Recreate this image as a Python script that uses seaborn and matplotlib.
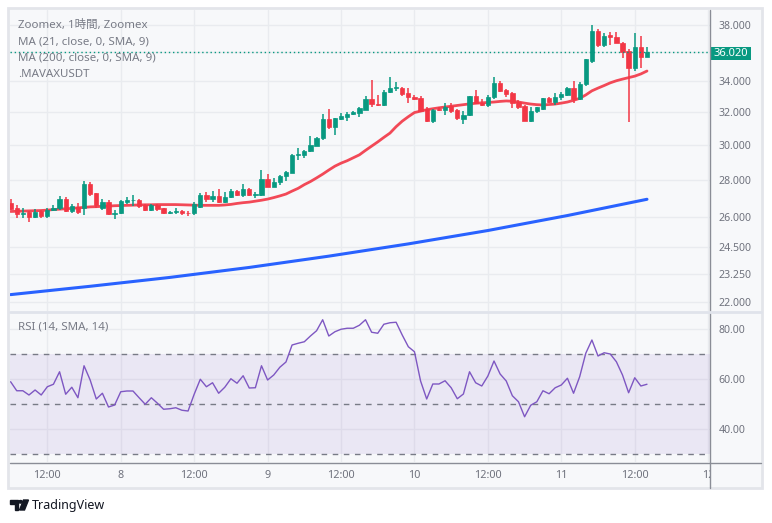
import matplotlib
matplotlib.use("Agg")
import matplotlib.pyplot as plt
from matplotlib.patches import Rectangle, Polygon, Circle
from matplotlib.lines import Line2D
from matplotlib.ticker import NullLocator, FixedLocator
from matplotlib.transforms import Bbox, TransformedBbox
import seaborn as sns
import pandas as pd
import numpy as np

# ---------------- data ----------------
opens = [26.73, 26.47, 26.18, 26.26, 26.03, 26.30, 26.08, 26.38, 26.47, 26.95,
         26.33, 26.55, 26.50, 27.75, 27.25, 26.47, 26.80, 26.16, 26.22, 26.82,
         26.90, 26.92, 26.62, 26.40, 26.65, 26.47, 26.24, 26.25, 26.30, 26.22,
         26.22, 26.55, 27.17, 26.95, 27.12, 26.78, 27.05, 27.40, 27.17, 27.50,
         27.17, 27.17, 28.04, 27.62, 27.86, 28.22, 28.40, 29.40, 29.42, 29.62,
         29.95, 30.38, 31.56, 31.10, 31.58, 31.72, 31.90, 31.95, 32.15, 32.85,
         32.52, 32.48, 33.28, 33.55, 33.58, 33.20, 32.98, 32.92, 32.17, 31.44,
         32.20, 32.13, 32.38, 32.10, 31.55, 31.82, 33.00, 32.60, 32.45, 32.95,
         33.88, 33.42, 33.25, 32.62, 32.38, 31.46, 32.08, 32.17, 32.88, 32.66,
         32.94, 33.10, 33.54, 32.82, 33.80, 35.40, 37.58, 36.53, 37.24, 37.14,
         36.70, 36.12, 34.88, 36.40, 35.70]
highs = [26.95, 26.64, 26.47, 26.33, 26.42, 26.40, 26.50, 26.64, 27.13, 27.08,
         26.70, 26.75, 27.94, 27.90, 27.25, 26.95, 26.90, 26.38, 26.90, 27.08,
         27.17, 26.95, 26.68, 26.70, 26.70, 26.50, 26.30, 26.50, 26.38, 26.35,
         26.80, 27.30, 27.35, 27.38, 27.47, 27.35, 27.47, 27.42, 27.77, 27.52,
         27.35, 28.55, 28.30, 28.08, 28.25, 28.50, 29.45, 29.80, 29.72, 30.53,
         30.45, 31.90, 32.17, 31.65, 31.92, 32.00, 32.05, 32.30, 33.05, 34.09,
         33.10, 33.42, 34.32, 33.97, 33.65, 33.53, 33.10, 33.00, 32.30, 32.20,
         32.30, 32.55, 32.55, 32.20, 32.05, 33.05, 33.42, 32.85, 33.10, 34.32,
         34.00, 33.50, 33.30, 32.80, 32.45, 32.30, 32.35, 32.92, 32.95, 33.25,
         33.30, 33.65, 34.05, 33.97, 35.55, 38.00, 37.68, 37.40, 37.46, 37.46,
         36.75, 36.25, 37.40, 37.19, 36.35]
lows = [26.38, 25.95, 25.98, 25.74, 25.95, 25.98, 25.95, 26.30, 26.40, 26.28,
        26.20, 26.16, 26.12, 27.10, 26.47, 26.40, 26.12, 25.91, 26.16, 26.68,
        26.60, 26.50, 26.30, 26.33, 26.30, 26.16, 26.18, 26.15, 26.10, 26.05,
        26.10, 26.47, 26.80, 26.80, 26.75, 26.75, 27.00, 27.10, 27.08, 27.12,
        27.03, 27.12, 27.60, 27.58, 27.71, 27.95, 28.35, 29.10, 29.20, 29.55,
        29.90, 30.30, 30.95, 30.59, 31.50, 31.45, 31.80, 31.72, 32.10, 32.30,
        32.40, 32.40, 33.20, 33.34, 33.00, 32.55, 32.75, 32.00, 31.40, 31.30,
        32.05, 31.82, 31.95, 31.50, 31.27, 31.75, 32.50, 32.38, 32.35, 32.85,
        33.30, 32.98, 32.23, 32.20, 31.46, 31.40, 31.92, 32.10, 32.55, 32.45,
        32.80, 33.00, 32.55, 32.75, 33.70, 35.27, 36.40, 36.36, 36.53, 36.65,
        35.58, 31.40, 34.72, 34.94, 35.65]
closes = [26.42, 26.16, 26.22, 26.03, 26.26, 26.08, 26.38, 26.50, 26.95, 26.33,
          26.60, 26.26, 27.75, 27.20, 26.64, 26.78, 26.16, 26.20, 26.85, 26.90,
          26.92, 26.58, 26.40, 26.65, 26.45, 26.22, 26.27, 26.30, 26.20, 26.20,
          26.68, 27.17, 26.95, 27.10, 26.78, 27.08, 27.40, 27.17, 27.50, 27.17,
          27.20, 28.04, 27.62, 27.86, 28.22, 28.43, 29.40, 29.48, 29.65, 30.00,
          30.38, 31.56, 31.10, 31.60, 31.75, 31.88, 32.00, 32.25, 32.85, 32.50,
          32.48, 33.28, 33.55, 33.60, 33.18, 32.95, 32.85, 32.08, 31.44, 32.15,
          32.13, 32.35, 32.05, 31.60, 31.82, 33.00, 32.55, 32.45, 32.98, 33.88,
          33.38, 33.18, 32.55, 32.30, 31.46, 32.08, 32.30, 32.88, 32.66, 32.94,
          33.15, 33.54, 32.82, 33.82, 35.50, 37.58, 36.53, 37.19, 37.10, 36.70,
          36.05, 34.88, 36.40, 35.70, 36.02]

ma21 = [26.30, 26.31, 26.32, 26.33, 26.34, 26.35, 26.37, 26.40, 26.42, 26.44,
        26.46, 26.49, 26.51, 26.54, 26.55, 26.57, 26.58, 26.60, 26.61, 26.62,
        26.63, 26.64, 26.65, 26.65, 26.66, 26.66, 26.66, 26.66, 26.65, 26.64,
        26.63, 26.62, 26.62, 26.62, 26.62, 26.64, 26.67, 26.72, 26.76, 26.79,
        26.84, 26.89, 26.95, 27.03, 27.12, 27.22, 27.38, 27.53, 27.73, 27.90,
        28.10, 28.31, 28.54, 28.76, 28.93, 29.07, 29.24, 29.41, 29.67, 29.92,
        30.17, 30.44, 30.70, 31.09, 31.43, 31.71, 31.97, 32.06, 32.15, 32.21,
        32.27, 32.32, 32.37, 32.42, 32.47, 32.52, 32.56, 32.59, 32.61, 32.64,
        32.68, 32.71, 32.69, 32.64, 32.57, 32.51, 32.47, 32.45, 32.48, 32.51,
        32.57, 32.64, 32.75, 32.88, 33.10, 33.37, 33.55, 33.72, 33.90, 34.04,
        34.15, 34.25, 34.35, 34.50, 34.70]

ma200_idx = [0, 13, 26, 39, 52, 65, 78, 91, 104]
ma200 = [22.32, 22.69, 23.09, 23.55, 24.08, 24.67, 25.33, 26.09, 26.94]

rsi = [58.9, 55.3, 55.3, 53.6, 55.6, 53.6, 56.9, 57.9, 62.9, 53.9,
       56.7, 52.5, 65.3, 59.6, 52.0, 54.3, 48.8, 49.6, 54.9, 55.2,
       55.2, 52.5, 49.9, 52.5, 50.3, 47.9, 48.1, 48.5, 47.5, 47.2,
       53.9, 59.9, 56.9, 58.5, 54.3, 56.7, 60.1, 58.3, 61.3, 56.4,
       56.5, 65.3, 59.6, 61.6, 64.7, 66.8, 73.6, 74.3, 74.9, 77.2,
       79.3, 83.7, 77.2, 78.9, 79.9, 80.3, 80.3, 81.5, 83.7, 78.7,
       78.3, 81.9, 82.5, 82.7, 77.6, 72.9, 70.9, 59.2, 52.0, 58.0,
       58.0, 59.3, 56.5, 52.1, 54.0, 62.9, 58.5, 57.2, 61.2, 67.2,
       62.0, 59.2, 53.3, 50.9, 44.9, 49.5, 50.9, 55.3, 54.1, 56.5,
       57.6, 60.3, 54.3, 60.9, 70.3, 75.6, 69.2, 70.5, 70.0, 66.9,
       61.6, 54.5, 60.5, 57.2, 57.9]

time_ticks = [6, 18, 30, 42, 54, 66, 78, 90, 102, 114]
time_labels = ["12:00", "8", "12:00", "9", "12:00", "10", "12:00", "11", "12:00", "12"]
price_ticks = [22.0, 23.25, 24.5, 26.0, 28.0, 30.0, 32.0, 34.0, 36.0, 38.0]
rsi_ticks = [40, 60, 80]
last_price = 36.02

legend_lines = ["Zoomex, 1時間, Zoomex", "MA (21, close, 0, SMA, 9)",
                "MA (200, close, 0, SMA, 9)", ".MAVAXUSDT"]
rsi_title = "RSI (14, SMA, 14)"

# ---------------- style ----------------
sns.set_theme(style="white")
plt.rcParams["font.family"] = ["Noto Sans", "Noto Sans CJK JP", "DejaVu Sans"]

UP = "#089981"
DOWN = "#f23645"
GRID = "#e9ebef"
BG = "#f7f8fa"
TXT = "#6f727d"

W, H = 772, 523
fig = plt.figure(figsize=(W / 100, H / 100), dpi=100, facecolor="white")


def fx(x):
    return x / W


def fy(y):
    return 1 - y / H


# outer frame (behind the axes)
fig.patches.append(Rectangle((fx(8), fy(488)), fx(762) - fx(8), fy(8) - fy(488),
                             transform=fig.transFigure, facecolor=BG,
                             edgecolor="#e3e5ea", lw=2, zorder=-5))

ax = fig.add_axes([fx(10), fy(311), fx(710) - fx(10), fy(10) - fy(311)])
axr = fig.add_axes([fx(10), fy(462), fx(710) - fx(10), fy(312) - fy(462)], sharex=ax)

n = len(closes)
idx = np.arange(n)
df = pd.DataFrame({"i": idx, "open": opens, "high": highs, "low": lows,
                   "close": closes, "ma21": ma21, "rsi": rsi})
df["up"] = df["close"] >= df["open"]
colors = np.where(df["up"], UP, DOWN)

for a in (ax, axr):
    a.set_facecolor(BG)
    for s in a.spines.values():
        s.set_visible(False)

# ---- main panel ----
ax.set_yscale("log")
ax.set_ylim(21.61, 39.14)
ax.set_xlim(-0.1, 114.3)
ax.yaxis.set_major_locator(FixedLocator(price_ticks))
ax.yaxis.set_minor_locator(NullLocator())
ax.xaxis.set_major_locator(FixedLocator(time_ticks))
ax.xaxis.set_minor_locator(NullLocator())
ax.grid(True, color=GRID, lw=1)
ax.set_axisbelow(True)
ax.yaxis.tick_right()
ax.set_yticklabels(["" if abs(v - last_price) < 0.5 else f"{v:.3f}" for v in price_ticks])
ax.tick_params(axis="y", length=0, pad=6, labelsize=7.6, labelcolor=TXT)
ax.tick_params(axis="x", length=0, labelbottom=False)

sns.lineplot(x=ma200_idx, y=ma200, ax=ax, color="#2962ff", lw=2.2, zorder=2)
sns.lineplot(data=df, x="i", y="ma21", ax=ax, color="#f23645", lw=2.0, alpha=0.9, zorder=2)

ax.vlines(df["i"], df["low"], df["high"], colors=colors, lw=1.1, zorder=3)
ax.bar(df["i"], df["close"] - df["open"], bottom=df["open"], width=0.7,
       color=colors, edgecolor=colors, lw=0.5, zorder=4)

ax.axhline(last_price, color=UP, lw=1, ls=(0, (1, 2)), zorder=5)
ax.set_xlabel("")
ax.set_ylabel("")

# last price tag
fig.patches.append(Rectangle((fx(710), fy(60)), fx(751) - fx(710), fy(47) - fy(60),
                             transform=fig.transFigure, facecolor=UP, edgecolor="none", zorder=5))
fig.text(fx(730.5), fy(53.5), f"{last_price:.3f}", color="white", fontsize=8.0,
         ha="center", va="center", fontweight="semibold", zorder=6)

for k, t in enumerate(legend_lines):
    fig.text(fx(18), fy(25 + k * 16.5), t, color="#787b86", fontsize=8.3,
             ha="left", va="center")

# ---- RSI panel ----
axr.set_ylim(26.8, 86.8)
axr.axhspan(30, 70, color="#7e57c2", alpha=0.1, lw=0, zorder=1)
for lvl in (70, 50, 30):
    axr.axhline(lvl, color="#787b86", lw=1, ls=(0, (4, 4)), zorder=2)
sns.lineplot(data=df, x="i", y="rsi", ax=axr, color="#7e57c2", lw=1.0, zorder=3)
axr.yaxis.set_major_locator(FixedLocator(rsi_ticks))
axr.yaxis.set_minor_locator(NullLocator())
axr.grid(True, color=GRID, lw=1)
axr.set_axisbelow(True)
axr.yaxis.tick_right()
axr.set_yticklabels([f"{v:.2f}" for v in rsi_ticks])
axr.tick_params(axis="y", length=0, pad=6, labelsize=7.6, labelcolor=TXT)
axr.set_xticks(time_ticks)
axr.set_xticklabels(time_labels)
axr.tick_params(axis="x", length=0, pad=6, labelsize=7.8, labelcolor=TXT)
axr.set_xlabel("")
axr.set_ylabel("")
fig.text(fx(18), fy(327), rsi_title, color="#787b86", fontsize=8.3, ha="left", va="center")

# clip the last time label at the price axis edge
clipbox = TransformedBbox(Bbox([[0, 0], [fx(710), 1]]), fig.transFigure)
for lab in axr.get_xticklabels():
    lab.set_clip_box(clipbox)
    lab.set_clip_on(True)

# axis borders
fig.lines.append(Line2D([fx(710), fx(710)], [fy(10), fy(488)], transform=fig.transFigure,
                        color="#8a8d96", lw=1, zorder=6))
fig.lines.append(Line2D([fx(10), fx(761)], [fy(462.5), fy(462.5)], transform=fig.transFigure,
                        color="#8a8d96", lw=1, zorder=6))
fig.lines.append(Line2D([fx(10), fx(761)], [fy(311.5), fy(311.5)], transform=fig.transFigure,
                        color="#e0e3eb", lw=2, zorder=6))

# TradingView logo
fig.patches.append(Polygon([(fx(10), fy(500)), (fx(17.5), fy(500)), (fx(17.5), fy(510)),
                            (fx(14.5), fy(510)), (fx(14.5), fy(503.5)), (fx(10), fy(503.5))],
                           closed=True, transform=fig.transFigure, color="#131722"))
fig.patches.append(Circle((fx(20.5), fy(501.8)), 1.9 / W, transform=fig.transFigure, color="#131722"))
fig.patches.append(Polygon([(fx(23.5), fy(500)), (fx(28.5), fy(500)), (fx(24.5), fy(510)),
                            (fx(19.5), fy(510))],
                           closed=True, transform=fig.transFigure, color="#131722"))
fig.text(fx(32), fy(505.5), "TradingView", color="#131722", fontsize=9.0, ha="left", va="center")

fig.savefig("out.png", dpi=100, facecolor="white")
